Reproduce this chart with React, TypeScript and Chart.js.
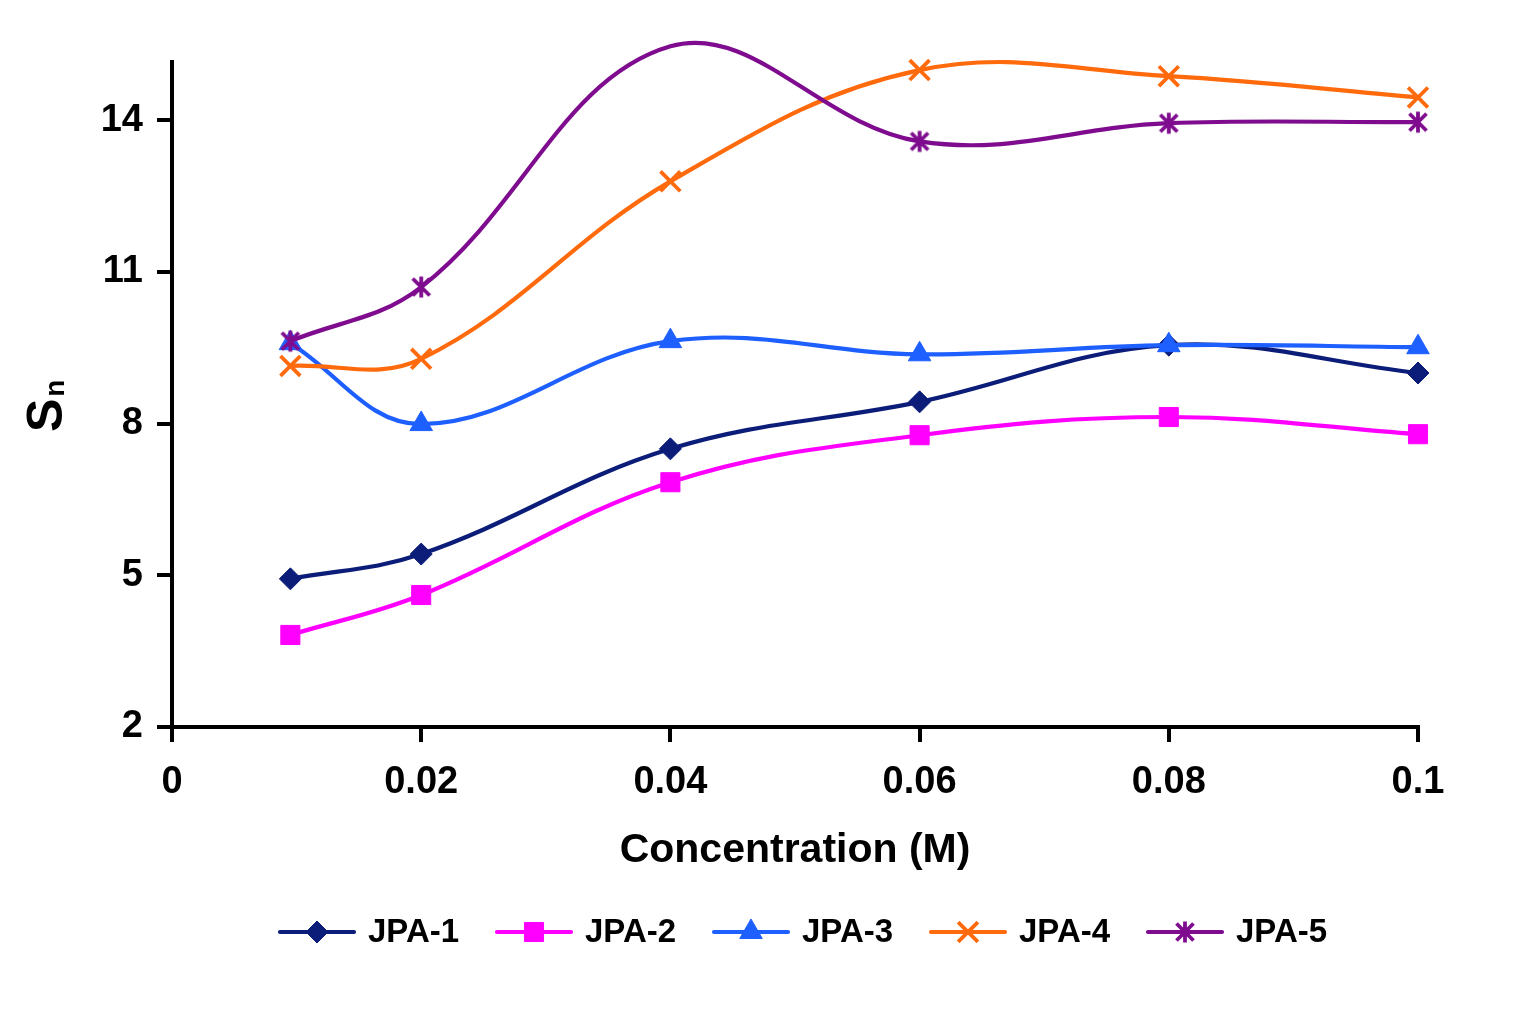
import { useEffect, useRef } from "react";
import { Chart, registerables } from "chart.js";
import { drawPoint } from "chart.js/helpers";

Chart.register(...registerables);

const FONT = '"Liberation Sans", Arial, Helvetica, sans-serif';

// concentration (M) of each measured point
const concentration = [0.0095, 0.02, 0.04, 0.06, 0.08, 0.1];

const jpa1 = [4.93, 5.42, 7.5, 8.43, 9.55, 9.0];
const jpa2 = [3.82, 4.61, 6.84, 7.77, 8.13, 7.79];
const jpa3 = [9.59, 7.99, 9.63, 9.37, 9.55, 9.51];
const jpa4 = [9.14, 9.28, 12.79, 14.99, 14.87, 14.45];
const jpa5 = [9.63, 10.7, 15.46, 13.58, 13.94, 13.96];

const seriesNames = ["JPA-1", "JPA-2", "JPA-3", "JPA-4", "JPA-5"];

const xTicks = [0, 0.02, 0.04, 0.06, 0.08, 0.1];
const yTicks = [2, 5, 8, 11, 14];

// excel style asterisk marker: vertical bar plus an X
const makeAsterisk = (color: string) => {
	const c = document.createElement("canvas");
	c.width = 26;
	c.height = 26;
	const g = c.getContext("2d")!;
	g.strokeStyle = color;
	g.lineWidth = 3.8;
	const m = 13;
	const r = 10.5;
	const d = 8.5;
	g.beginPath();
	g.moveTo(m, m - r);
	g.lineTo(m, m + r);
	g.moveTo(m - d, m - d);
	g.lineTo(m + d, m + d);
	g.moveTo(m + d, m - d);
	g.lineTo(m - d, m + d);
	g.stroke();
	return c;
};

const extrasPlugin = {
	id: "extras",
	afterDraw(chart: any) {
		const ctx = chart.ctx;

		// y axis title "Sn" with small n
		ctx.save();
		ctx.translate(62, 432);
		ctx.rotate(-Math.PI / 2);
		ctx.fillStyle = "#000";
		ctx.textAlign = "left";
		ctx.textBaseline = "alphabetic";
		ctx.font = `bold 50px ${FONT}`;
		ctx.fillText("S", 0, 0);
		const sw = ctx.measureText("S").width;
		ctx.font = `bold 28px ${FONT}`;
		ctx.fillText("n", sw + 2, 2);
		ctx.restore();

		// legend: line with marker in the middle
		ctx.save();
		const y = 932;
		chart.data.datasets.forEach((ds: any, i: number) => {
			const x0 = 280 + i * 217;
			ctx.strokeStyle = ds.borderColor;
			ctx.lineWidth = 4.2;
			ctx.lineCap = "round";
			ctx.beginPath();
			ctx.moveTo(x0, y);
			ctx.lineTo(x0 + 74, y);
			ctx.stroke();
			ctx.fillStyle = ds.pointBackgroundColor;
			ctx.strokeStyle = ds.pointBorderColor;
			ctx.lineWidth = ds.pointBorderWidth;
			ctx.lineCap = "butt";
			drawPoint(
				ctx,
				{
					pointStyle: ds.pointStyle,
					radius: ds.pointRadius,
					rotation: 0,
					borderWidth: ds.pointBorderWidth,
				} as any,
				x0 + 37,
				y
			);
			ctx.fillStyle = "#000";
			ctx.font = `bold 33px ${FONT}`;
			ctx.textAlign = "left";
			ctx.textBaseline = "middle";
			ctx.fillText(ds.label, x0 + 88, y + 1);
		});
		ctx.restore();
	},
};

export default function App() {
	const chartRef = useRef<HTMLCanvasElement | null>(null);
	const myChartRef = useRef<Chart | null>(null);

	useEffect(() => {
		document.body.style.margin = "0";
		if (!chartRef.current) return;

		const colors = ["#0b1d78", "#ff00ff", "#1e5fff", "#ff6a0d", "#7f0c8f"];
		const values = [jpa1, jpa2, jpa3, jpa4, jpa5];
		const styles: any[] = [
			"rectRot",
			"rect",
			"triangle",
			"crossRot",
			makeAsterisk(colors[4]),
		];
		const radii = [11, 13.5, 13, 14, 10];
		const pointBorders = [1, 1, 1, 3.8, 1];

		const datasets = values.map((vals, i) => ({
			label: seriesNames[i],
			data: vals.map((v, j) => ({ x: concentration[j], y: v })),
			borderColor: colors[i],
			backgroundColor: colors[i],
			borderWidth: 4.2,
			pointStyle: styles[i],
			pointRadius: radii[i],
			pointBackgroundColor: colors[i],
			pointBorderColor: colors[i],
			pointBorderWidth: pointBorders[i],
			tension: 0.38,
			fill: false,
			clip: false as any,
			order: 5 - i,
		}));

		myChartRef.current = new Chart(chartRef.current, {
			type: "line",
			data: { datasets },
			options: {
				animation: false,
				responsive: false,
				devicePixelRatio: 1,
				events: [],
				layout: {
					padding: { top: 62, right: 118, bottom: 145, left: 0 },
				},
				elements: {
					line: { capBezierPoints: false },
				},
				scales: {
					x: {
						type: "linear",
						min: 0,
						max: 0.1,
						afterBuildTicks: (scale: any) => {
							scale.ticks = xTicks.map((v) => ({ value: v }));
						},
						afterFit: (scale: any) => {
							scale.height = 152;
						},
						border: { display: true, color: "#000", width: 4 },
						grid: {
							display: true,
							drawOnChartArea: false,
							drawTicks: true,
							tickLength: 15,
							color: "#000",
							lineWidth: 4,
						},
						ticks: {
							color: "#000",
							padding: 18,
							maxRotation: 0,
							font: { family: FONT, size: 38, weight: "bold" },
							callback: (v: any) => String(v),
						},
						title: {
							display: true,
							text: "Concentration (M)",
							color: "#000",
							font: { family: FONT, size: 41, weight: "bold" },
						},
					},
					y: {
						type: "linear",
						min: 2,
						max: 15.15,
						afterBuildTicks: (scale: any) => {
							scale.ticks = yTicks.map((v) => ({ value: v }));
						},
						afterFit: (scale: any) => {
							scale.width = 172;
						},
						border: { display: true, color: "#000", width: 4 },
						grid: {
							display: true,
							drawOnChartArea: false,
							drawTicks: true,
							tickLength: 15,
							color: "#000",
							lineWidth: 4,
						},
						ticks: {
							color: "#000",
							padding: 14,
							font: { family: FONT, size: 38, weight: "bold" },
						},
					},
				},
				plugins: {
					legend: { display: false },
					tooltip: { enabled: false },
				},
			},
			plugins: [extrasPlugin],
		} as any);

		return () => {
			myChartRef.current?.destroy();
		};
	}, []);

	return (
		<div style={{ width: 1536, height: 1024, background: "#fff" }}>
			<canvas ref={chartRef} width={1536} height={1024}></canvas>
		</div>
	);
}
